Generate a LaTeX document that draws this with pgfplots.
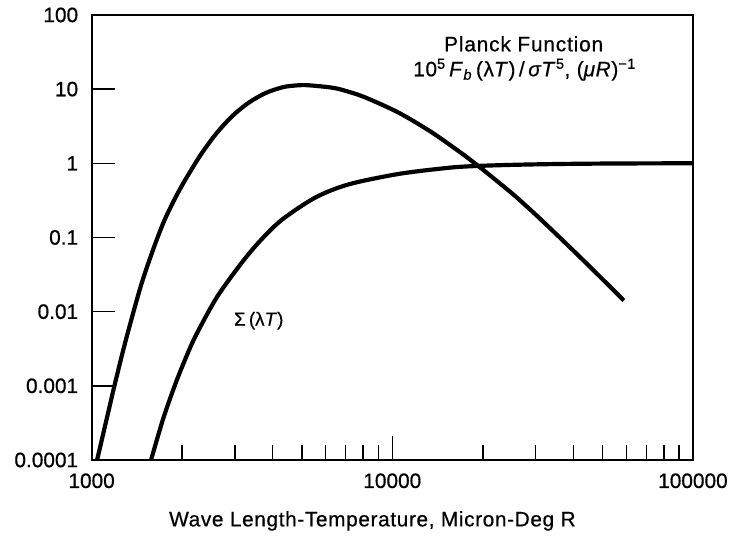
\documentclass[border=0pt]{standalone}
\usepackage{fontspec}
\setmainfont{Liberation Sans}[FakeBold=0.6]
\usepackage{pgfplots}
\pgfplotsset{compat=1.18}
\begin{document}
\begin{tikzpicture}
\begin{axis}[
  xmode=log, ymode=log,
  scale only axis, width=604bp, height=447bp,
  xmin=1000, xmax=100000, ymin=0.0001, ymax=100,
  xtick={1000,10000,100000}, xticklabels={1000,10000,100000},
  ytick={0.0001,0.001,0.01,0.1,1,10,100},
  yticklabels={0.0001,0.001,0.01,0.1,1,10,100},
  yminorticks=false,
  xtick pos=left, ytick pos=left,
  tick align=inside,
  major tick length=24bp, minor tick length=15bp,
  every tick/.style={black, line width=1.5bp},
  axis line style={line width=1.8bp},
  tick label style={font=\fontsize{21}{24}\selectfont},
  yticklabel style={xshift=-10bp},
  xticklabel style={yshift=-10bp},
  xlabel={Wave Length-Temperature, Micron-Deg R},
  xlabel style={font=\fontsize{21}{24}\selectfont\addfontfeatures{LetterSpace=3}, at={(axis description cs:0.467,-0.137)}, anchor=center},
]
% Planck function 10^5 F_b / sigma T^5
\addplot[line width=4.2bp, smooth, black] table {
1043 0.0001
1136 0.000441
1195 0.00106
1289 0.00364
1391 0.01138
1462 0.0230
1541 0.0440
1640 0.0890
1748 0.1714
1890 0.330
2037 0.575
2300 1.281
2588 2.467
2937 4.33
3336 6.59
3789 8.84
4300 10.55
4700 11.13
5200 11.30
6295 10.47
7000 9.46
8122 7.74
10470 4.84
13490 2.634
17410 1.273
19400 0.910
24830 0.403
28200 0.255
32030 0.158
41300 0.0587
53230 0.0213
58900 0.0141
};
% Fraction Sigma(lambda T)
\addplot[line width=4.2bp, smooth, black] table {
1577 0.0001
1731 0.000362
1912 0.001138
2096 0.00285
2249 0.00526
2619 0.016
3170 0.0466
3656 0.0923
4300 0.174
5546 0.345
7152 0.519
10470 0.717
15320 0.868
18790 0.917
25000 0.952
35000 0.977
50000 0.991
70000 0.997
100000 1.0
};
\node[font=\fontsize{21}{24}\selectfont\addfontfeatures{LetterSpace=4}] at (rel axis cs:0.7185,0.935) {Planck Function};
\node[font=\fontsize{21}{24}\selectfont\addfontfeatures{LetterSpace=3}] at (rel axis cs:0.72,0.877) {10\textsuperscript{5}\,\textit{F}\textsubscript{\textit{b}}\,(λ\textit{T})\,/\,\textit{σT}\textsuperscript{5}, (\textit{μR})\textsuperscript{−1}};
\node[font=\fontsize{19}{22}\selectfont] at (rel axis cs:0.278,0.313) {Σ\,(λ\textit{T})};
\end{axis}
\path ([shift={(-92bp,-82bp)}]current axis.south west) rectangle ([shift={(35bp,15bp)}]current axis.north east);
\end{tikzpicture}
\end{document}
